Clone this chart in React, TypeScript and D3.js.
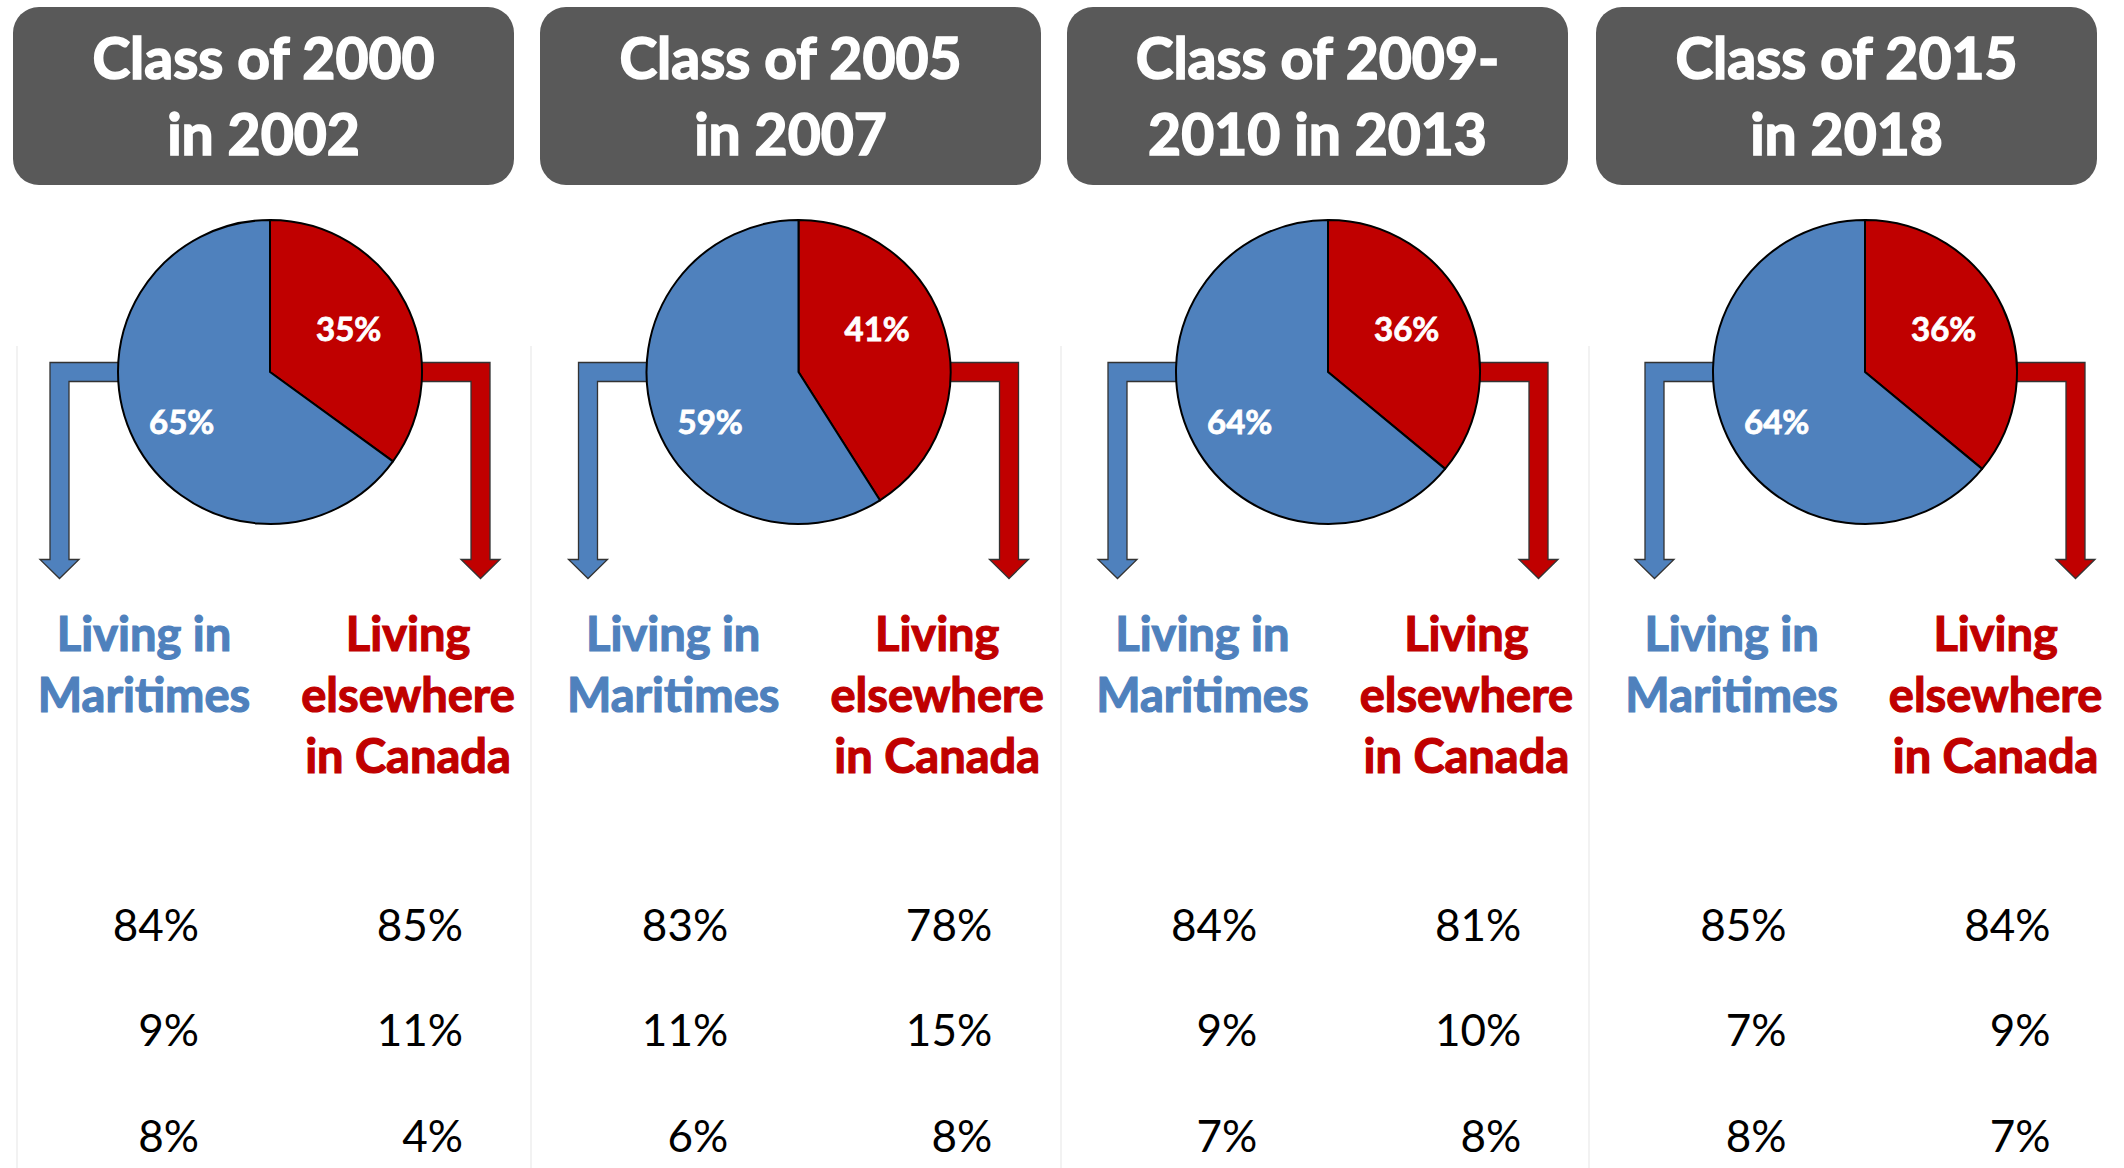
import * as React from 'react';
import * as d3 from 'd3';

// panel titles (two lines each)
const titles = [
  ['Class of 2000', 'in 2002'],
  ['Class of 2005', 'in 2007'],
  ['Class of 2009-', '2010 in 2013'],
  ['Class of 2015', 'in 2018'],
];

// pie shares: living elsewhere in Canada / living in Maritimes
const elsewhereShare = [35, 41, 36, 36];
const maritimesShare = [65, 59, 64, 64];

// the three rows of figures under each column
const maritimesRows = [
  [84, 9, 8],
  [83, 11, 6],
  [84, 9, 7],
  [85, 7, 8],
];
const elsewhereRows = [
  [85, 11, 4],
  [78, 15, 8],
  [81, 10, 8],
  [84, 9, 7],
];

const BLUE = '#4F81BD';
const RED = '#C00000';
const W = 2124;
const H = 1168;
const FONT = 'Lato, "Open Sans", sans-serif';

// layout
const pieCx = [270, 798.5, 1328, 1865];
const boxX = [13, 540, 1067, 1596];
const sepX = [17, 531, 1061, 1589];
const step = 529.2;
const pieCy = 372;
const R = 152;

const elbowArrow = (cx: number, side: 'left' | 'right') => {
  const s = side === 'left' ? -1 : 1;
  const top = 362.5;
  const th = 19;
  const outer = cx + s * 220;
  const inner = outer - s * th;
  const start = cx + s * (R - 8);
  const headTop = 559.5;
  const tipY = 578.5;
  const tipX = (outer + inner) / 2;
  const p = d3.path();
  p.moveTo(start, top);
  p.lineTo(outer, top);
  p.lineTo(outer, headTop);
  p.lineTo(tipX + s * 19.5, headTop);
  p.lineTo(tipX, tipY);
  p.lineTo(tipX - s * 19.5, headTop);
  p.lineTo(inner, headTop);
  p.lineTo(inner, top + th);
  p.lineTo(start, top + th);
  p.closePath();
  return p.toString();
};

const Panel = ({ i }: { i: number }) => {
  const cx = pieCx[i];
  const pie = d3
    .pie<number>()
    .value((d) => d)
    .sort(null);
  const arcs = pie([elsewhereShare[i], maritimesShare[i]]);
  const arc = d3.arc<d3.PieArcDatum<number>>().innerRadius(0).outerRadius(R);
  const redArc = arcs[0];
  const labelAngle = Math.min((redArc.startAngle + redArc.endAngle) / 2, (61 * Math.PI) / 180);
  const labelAngles = [labelAngle, labelAngle + Math.PI];
  const labelR = [90, 101];
  const colors = [RED, BLUE];

  const off = step * i;
  const blueTextX = 144 + off;
  const redTextX = 408 + off;
  const blueNumX = 199 + off;
  const redNumX = 463 + off;
  const rowY = [941, 1046, 1152];

  return (
    <g>
      <rect x={boxX[i]} y={7} width={501} height={178} rx={26} ry={26} fill='#595959' />
      {titles[i].map((t, k) => (
        <text
          key={k}
          x={boxX[i] + 250.5}
          y={79 + k * 76}
          textAnchor='middle'
          fill='white'
          stroke='white'
          strokeWidth={1.6}
          fontFamily={FONT}
          fontWeight={700}
          fontSize={57}>
          {t}
        </text>
      ))}
      <path d={elbowArrow(cx, 'left')} fill={BLUE} stroke='#333' strokeWidth={1.3} />
      <path d={elbowArrow(cx, 'right')} fill={RED} stroke='#333' strokeWidth={1.3} />
      <g transform={`translate(${cx},${pieCy})`}>
        {arcs.map((a, k) => (
          <path key={k} d={arc(a) || ''} fill={colors[k]} stroke='#000' strokeWidth={2} strokeLinejoin='round' />
        ))}
        {arcs.map((a, k) => (
          <text
            key={'l' + k}
            x={labelR[k] * Math.sin(labelAngles[k])}
            y={-labelR[k] * Math.cos(labelAngles[k])}
            textAnchor='middle'
            dominantBaseline='central'
            fill='white'
            stroke='white'
            strokeWidth={0.8}
            fontFamily={FONT}
            fontWeight={700}
            fontSize={33}>
            {a.data}%
          </text>
        ))}
      </g>
      <g fontFamily={FONT} fontWeight={700} fontSize={47} textAnchor='middle' strokeWidth={1.2}>
        <text x={blueTextX} y={651} fill={BLUE} stroke={BLUE}>Living in</text>
        <text x={blueTextX} y={712} fill={BLUE} stroke={BLUE}>Maritimes</text>
        <text x={redTextX} y={651} fill={RED} stroke={RED}>Living</text>
        <text x={redTextX} y={712} fill={RED} stroke={RED}>elsewhere</text>
        <text x={redTextX} y={773} fill={RED} stroke={RED}>in Canada</text>
      </g>
      <g fontFamily={FONT} fontSize={44} textAnchor='end' fill='#000'>
        {maritimesRows[i].map((v, k) => (
          <text key={'m' + k} x={blueNumX} y={rowY[k]}>{v}%</text>
        ))}
        {elsewhereRows[i].map((v, k) => (
          <text key={'e' + k} x={redNumX} y={rowY[k]}>{v}%</text>
        ))}
      </g>
    </g>
  );
};

const App = () => {
  return (
    <svg
      width={W}
      height={H}
      style={{ position: 'absolute', left: 0, top: 0, background: 'white' }}>
      {sepX.map((x, k) => (
        <line key={k} x1={x} x2={x} y1={346} y2={H} stroke='#eeeeee' strokeWidth={1.5} />
      ))}
      {titles.map((_, i) => (
        <Panel key={i} i={i} />
      ))}
    </svg>
  );
};

export default App;
